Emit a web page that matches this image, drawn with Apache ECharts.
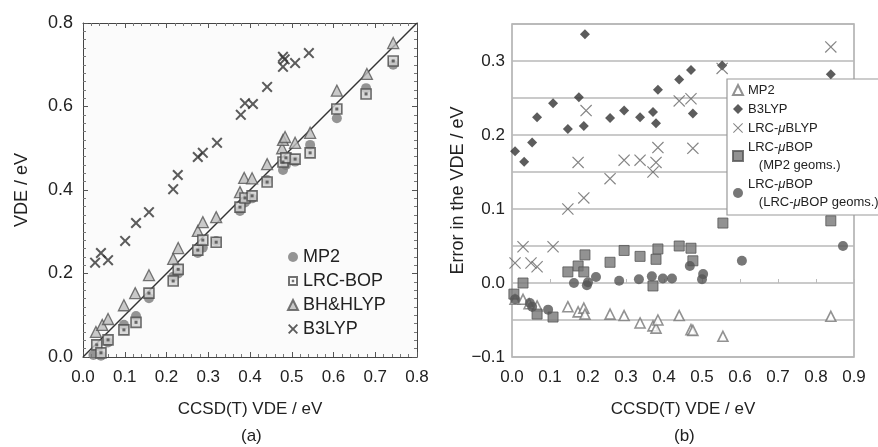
<!DOCTYPE html>
<html><head><meta charset="utf-8">
<script src="https://cdn.jsdelivr.net/npm/echarts@6/dist/echarts.min.js"></script>
<style>html,body{margin:0;padding:0;background:#fff}#c{width:878px;height:447px}</style>
</head><body><div id="c"></div>
<script>
// ---------- Panel (a): VDE vs CCSD(T) VDE ----------
const aMP2 = [[0.025,0.005],[0.043,0.003],[0.060,0.035],[0.098,0.077],[0.127,0.098],[0.158,0.141],[0.216,0.192],[0.228,0.200],[0.275,0.249],[0.287,0.262],[0.319,0.278],[0.376,0.350],[0.388,0.370],[0.405,0.380],[0.441,0.424],[0.479,0.448],[0.486,0.460],[0.508,0.468],[0.544,0.508],[0.608,0.572],[0.678,0.644],[0.743,0.700]];
const aLRCBOP = [[0.033,0.029],[0.043,0.010],[0.060,0.041],[0.098,0.065],[0.127,0.083],[0.158,0.153],[0.216,0.182],[0.228,0.210],[0.275,0.256],[0.287,0.280],[0.319,0.275],[0.376,0.359],[0.388,0.381],[0.405,0.386],[0.441,0.419],[0.479,0.467],[0.486,0.477],[0.508,0.474],[0.544,0.489],[0.608,0.594],[0.678,0.630],[0.743,0.709]];
const aBHHLYP = [[0.031,0.060],[0.046,0.077],[0.060,0.091],[0.098,0.124],[0.125,0.153],[0.158,0.196],[0.216,0.235],[0.228,0.261],[0.275,0.302],[0.287,0.323],[0.319,0.335],[0.376,0.395],[0.386,0.429],[0.405,0.428],[0.441,0.462],[0.477,0.500],[0.479,0.520],[0.484,0.527],[0.508,0.513],[0.544,0.537],[0.608,0.638],[0.680,0.678],[0.743,0.752]];
const aB3LYP = [[0.029,0.226],[0.043,0.249],[0.060,0.232],[0.101,0.278],[0.127,0.321],[0.158,0.347],[0.216,0.402],[0.227,0.436],[0.275,0.479],[0.287,0.489],[0.321,0.513],[0.378,0.580],[0.388,0.608],[0.407,0.606],[0.441,0.647],[0.479,0.719],[0.483,0.713],[0.479,0.695],[0.508,0.704],[0.541,0.728]];
const aDiagonal = [[0,0],[0.8,0.8]];
const aTicksX = [0,0.8,0.1];   // min, max, step
const aTicksY = [0,0.8,0.2];

// ---------- Panel (b): error in VDE vs CCSD(T) VDE ----------
const bMP2 = [[0.008,-0.022],[0.029,-0.022],[0.045,-0.028],[0.066,-0.031],[0.147,-0.032],[0.174,-0.039],[0.189,-0.034],[0.192,-0.042],[0.258,-0.042],[0.295,-0.044],[0.337,-0.054],[0.371,-0.058],[0.379,-0.061],[0.384,-0.050],[0.440,-0.044],[0.471,-0.063],[0.476,-0.064],[0.555,-0.072],[0.839,-0.045]];
const bB3LYP = [[0.008,0.178],[0.032,0.164],[0.053,0.190],[0.066,0.224],[0.108,0.243],[0.147,0.208],[0.176,0.251],[0.189,0.212],[0.192,0.336],[0.258,0.223],[0.295,0.233],[0.337,0.224],[0.371,0.231],[0.379,0.216],[0.384,0.261],[0.440,0.275],[0.471,0.288],[0.476,0.229],[0.553,0.294],[0.839,0.282]];
const bLRCmuBLYP = [[0.008,0.027],[0.029,0.049],[0.050,0.027],[0.066,0.022],[0.108,0.049],[0.147,0.100],[0.174,0.163],[0.189,0.115],[0.195,0.233],[0.258,0.141],[0.295,0.166],[0.337,0.166],[0.371,0.150],[0.379,0.163],[0.384,0.183],[0.440,0.246],[0.471,0.249],[0.476,0.182],[0.553,0.290],[0.839,0.319]];
const bLRCmuBOP_MP2 = [[0.005,-0.015],[0.029,0.000],[0.066,-0.042],[0.108,-0.046],[0.147,0.015],[0.174,0.023],[0.189,0.015],[0.192,0.038],[0.258,0.028],[0.295,0.044],[0.337,0.036],[0.371,-0.004],[0.379,0.032],[0.384,0.046],[0.440,0.050],[0.471,0.047],[0.476,0.030],[0.555,0.081],[0.839,0.084]];
const bLRCmuBOP_own = [[0.008,-0.022],[0.047,-0.027],[0.053,-0.032],[0.095,-0.036],[0.163,0.000],[0.197,-0.003],[0.200,0.001],[0.221,0.008],[0.282,0.003],[0.334,0.005],[0.368,0.009],[0.397,0.006],[0.421,0.006],[0.468,0.023],[0.500,0.005],[0.503,0.012],[0.605,0.030],[0.871,0.050]];
const bTicksX = [0,0.9,0.1];
const bTicksY = [-0.1,0.35,0.05];

const FONT = 'Liberation Sans, Arial, sans-serif';
const crossThick = 'path://M0,1.3 L1.3,0 L5,3.7 L8.7,0 L10,1.3 L6.3,5 L10,8.7 L8.7,10 L5,6.3 L1.3,10 L0,8.7 L3.7,5 Z';
const crossThin = 'path://M0,0.7 L0.7,0 L5,4.3 L9.3,0 L10,0.7 L5.7,5 L10,9.3 L9.3,10 L5,5.7 L0.7,10 L0,9.3 L4.3,5 Z';
const sqRingDot = 'path://M0,0H10V10H0Z M2,2V8H8V2Z M3.8,3.8H6.2V6.2H3.8Z';

const chart = echarts.init(document.getElementById('c'), null, {renderer:'canvas'});

const labelsB = {
  'MP2 (b)': '{n|MP2}',
  'B3LYP (b)': '{n|B3LYP}',
  'LRC-μBLYP': '{n|LRC-}{i|μ}{n|BLYP}',
  'LRC-μBOP (MP2 geoms.)': '{n|LRC-}{i|μ}{n|BOP}\n{n|   (MP2 geoms.)}',
  'LRC-μBOP (LRC-μBOP geoms.)': '{n|LRC-}{i|μ}{n|BOP}\n{n|   (LRC-}{i|μ}{n|BOP geoms.)}'
};

const tickA = {inside:true, length:5, lineStyle:{color:'#555', width:1}};
const minorA = (n)=>({show:true, splitNumber:n, length:3, lineStyle:{color:'#777', width:1}});
const lineA = {show:true, onZero:false, lineStyle:{color:'#444', width:1}};

chart.setOption({
  animation:false,
  backgroundColor:'#fff',
  textStyle:{fontFamily:FONT},
  grid:[
    {left:83, top:23, width:334, height:334, show:true, backgroundColor:'#fbfbfb', borderWidth:0},
    {left:512, top:24, width:342, height:333, show:true, backgroundColor:'#fff', borderColor:'#aaa', borderWidth:1.5}
  ],
  xAxis:[
    {gridIndex:0, type:'value', position:'bottom', min:aTicksX[0], max:aTicksX[1], interval:aTicksX[2],
     axisLine:lineA, axisTick:tickA, minorTick:minorA(5), splitLine:{show:false},
     axisLabel:{fontSize:17, color:'#222', margin:12, formatter:v=>v.toFixed(1)},
     name:'CCSD(T) VDE / eV', nameLocation:'middle', nameGap:44, nameTextStyle:{fontSize:17, color:'#222'}},
    {gridIndex:0, type:'value', position:'top', min:aTicksX[0], max:aTicksX[1], interval:aTicksX[2],
     axisLine:lineA, axisTick:tickA, minorTick:minorA(5), splitLine:{show:false}, axisLabel:{show:false}},
    {gridIndex:1, type:'value', position:'bottom', min:bTicksX[0], max:bTicksX[1], interval:bTicksX[2],
     axisLine:{show:false}, axisTick:{inside:true, length:4, lineStyle:{color:'#bbb'}}, splitLine:{show:false},
     axisLabel:{fontSize:17, color:'#222', margin:12, interval:0, formatter:v=>v.toFixed(1)},
     name:'CCSD(T) VDE / eV', nameLocation:'middle', nameGap:44, nameTextStyle:{fontSize:17, color:'#222'}}
  ],
  yAxis:[
    {gridIndex:0, type:'value', position:'left', min:aTicksY[0], max:aTicksY[1], interval:aTicksY[2],
     axisLine:lineA, axisTick:tickA, minorTick:minorA(10), splitLine:{show:false},
     axisLabel:{fontSize:18, color:'#222', margin:10, formatter:v=>v.toFixed(1)},
     name:'VDE / eV', nameLocation:'middle', nameGap:52, nameTextStyle:{fontSize:18, color:'#222'}},
    {gridIndex:0, type:'value', position:'right', min:aTicksY[0], max:aTicksY[1], interval:aTicksY[2],
     axisLine:lineA, axisTick:tickA, minorTick:minorA(10), splitLine:{show:false}, axisLabel:{show:false}},
    {gridIndex:1, type:'value', position:'left', min:bTicksY[0], max:bTicksY[1], interval:bTicksY[2],
     axisLine:{show:false}, axisTick:{show:false},
     splitLine:{show:true, lineStyle:{color:'#b8b8b8', width:1.5}},
     axisLabel:{fontSize:17, color:'#222', margin:7,
       formatter:v=>{const k=Math.round(v*100); return (k%10===0)? (v.toFixed(1)).replace('-','\u2212') : '';}},
     name:'Error in the VDE / eV', nameLocation:'middle', nameGap:45, nameTextStyle:{fontSize:18, color:'#222'}}
  ],
  legend:[
    {left:287, top:248, orient:'vertical', padding:0, itemGap:6, itemWidth:10, itemHeight:10,
     textStyle:{fontSize:18, color:'#222', fontFamily:FONT},
     data:[
       {name:'MP2', icon:'circle'},
       {name:'LRC-BOP', icon:sqRingDot, itemStyle:{color:'#505050', borderWidth:0}},
       {name:'BH&HLYP', icon:'triangle'},
       {name:'B3LYP', icon:crossThick}
     ]},
    {left:727, top:79, orient:'vertical', padding:[2,6,4,5], itemGap:1, itemWidth:10, itemHeight:10,
     borderColor:'#999', borderWidth:1.2, backgroundColor:'#fff',
     formatter:n=>labelsB[n],
     textStyle:{fontSize:13, color:'#222', fontFamily:FONT, lineHeight:18,
       rich:{n:{fontSize:13, lineHeight:18, color:'#222'}, i:{fontSize:13, lineHeight:18, fontStyle:'italic', color:'#222'}}},
     data:['MP2 (b)','B3LYP (b)','LRC-μBLYP','LRC-μBOP (MP2 geoms.)','LRC-μBOP (LRC-μBOP geoms.)']}
  ],
  series:[
    {name:'diag', type:'line', xAxisIndex:0, yAxisIndex:0, data:aDiagonal, showSymbol:false, symbol:'none',
     lineStyle:{color:'#333', width:1.5}, z:1, silent:true},
    {name:'MP2', type:'scatter', xAxisIndex:0, yAxisIndex:0, data:aMP2, symbol:'circle', symbolSize:10,
     itemStyle:{color:'#7a7a7a'}, z:2},
    {name:'BH&HLYP', type:'scatter', xAxisIndex:0, yAxisIndex:0, data:aBHHLYP, symbol:'triangle', symbolSize:11,
     itemStyle:{color:'#bdbdbd', borderColor:'#555', borderWidth:1.3}, z:3},
    {name:'LRC-BOP', type:'scatter', xAxisIndex:0, yAxisIndex:0, data:aLRCBOP, symbol:'rect', symbolSize:10,
     itemStyle:{color:'#d2d2d2', borderColor:'#4a4a4a', borderWidth:1.6}, z:4},
    {name:'LRC-BOP-dot', type:'scatter', xAxisIndex:0, yAxisIndex:0, data:aLRCBOP, symbol:'rect', symbolSize:3,
     itemStyle:{color:'#4a4a4a'}, z:5, silent:true},
    {name:'B3LYP', type:'scatter', xAxisIndex:0, yAxisIndex:0, data:aB3LYP, symbol:crossThick, symbolSize:11,
     itemStyle:{color:'#333'}, z:6},

    {name:'MP2 (b)', type:'scatter', xAxisIndex:2, yAxisIndex:2, data:bMP2, symbol:'triangle', symbolSize:10,
     itemStyle:{color:'#fff', borderColor:'#777', borderWidth:1.6}, z:3},
    {name:'B3LYP (b)', type:'scatter', xAxisIndex:2, yAxisIndex:2, data:bB3LYP, symbol:'diamond', symbolSize:10,
     itemStyle:{color:'#333'}, z:4},
    {name:'LRC-μBLYP', type:'scatter', xAxisIndex:2, yAxisIndex:2, data:bLRCmuBLYP, symbol:crossThin, symbolSize:12,
     itemStyle:{color:'#666'}, z:4},
    {name:'LRC-μBOP (MP2 geoms.)', type:'scatter', xAxisIndex:2, yAxisIndex:2, data:bLRCmuBOP_MP2, symbol:'rect', symbolSize:10,
     itemStyle:{color:'#777', borderColor:'#555', borderWidth:1}, z:4},
    {name:'LRC-μBOP (LRC-μBOP geoms.)', type:'scatter', xAxisIndex:2, yAxisIndex:2, data:bLRCmuBOP_own, symbol:'circle', symbolSize:10,
     itemStyle:{color:'#555'}, z:5}
  ],
  graphic:[
    {type:'text', left:241, top:428, style:{text:'(a)', fontSize:17, fill:'#222', fontFamily:FONT}},
    {type:'text', left:674, top:428, style:{text:'(b)', fontSize:17, fill:'#222', fontFamily:FONT}}
  ]
});
</script></body></html>
